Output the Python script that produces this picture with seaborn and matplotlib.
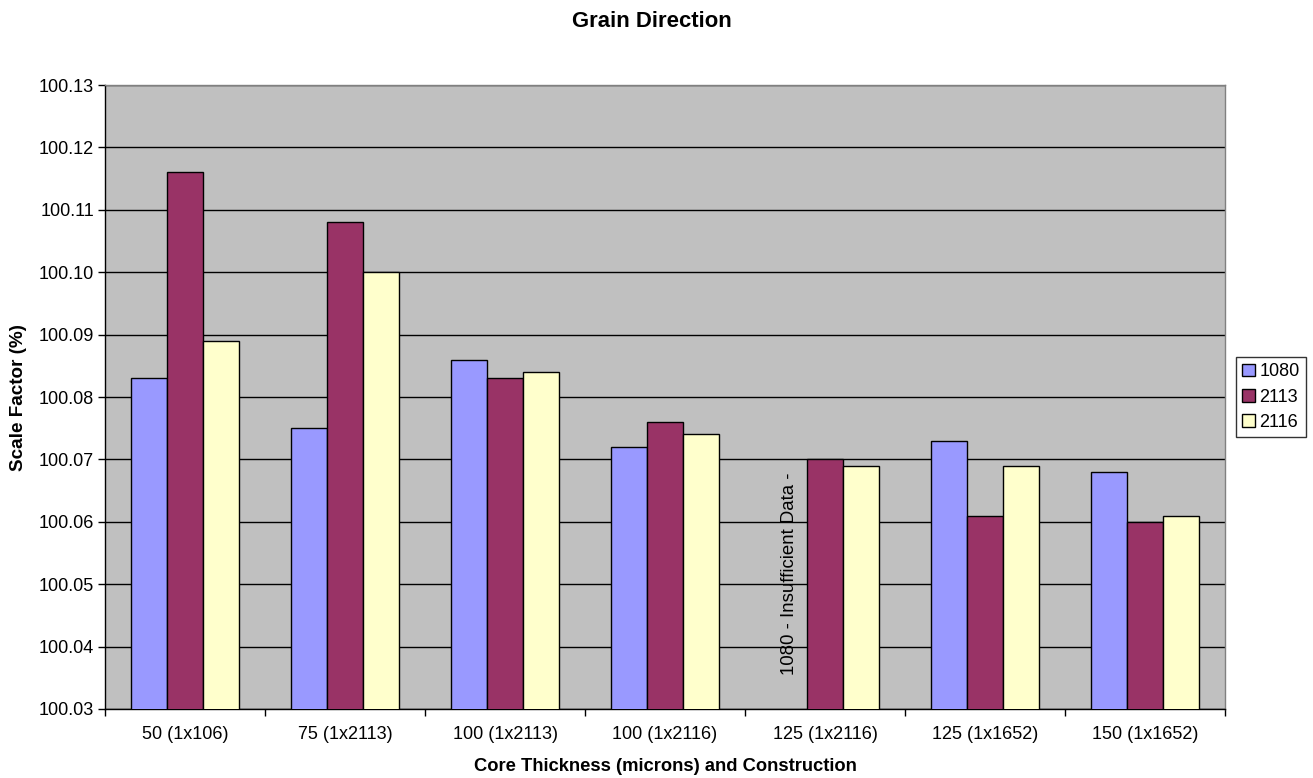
import numpy as np
import pandas as pd
import matplotlib
matplotlib.use("Agg")
import matplotlib.pyplot as plt
import seaborn as sns

categories = ["50 (1x106)", "75 (1x2113)", "100 (1x2113)", "100 (1x2116)",
              "125 (1x2116)", "125 (1x1652)", "150 (1x1652)"]
series_names = ["1080", "2113", "2116"]
values_1080 = [100.083, 100.075, 100.086, 100.072, np.nan, 100.073, 100.068]
values_2113 = [100.116, 100.108, 100.083, 100.076, 100.070, 100.061, 100.060]
values_2116 = [100.089, 100.100, 100.084, 100.074, 100.069, 100.069, 100.061]
y_ticks = [100.03, 100.04, 100.05, 100.06, 100.07, 100.08, 100.09,
           100.10, 100.11, 100.12, 100.13]
colors = ["#9999FF", "#993366", "#FFFFCC"]

df = pd.DataFrame({
    "Construction": categories * 3,
    "Series": np.repeat(series_names, len(categories)),
    "Value": values_1080 + values_2113 + values_2116,
})

sns.set_theme(style="white")
plt.rcParams["font.family"] = ["Liberation Sans", "DejaVu Sans"]
plt.rcParams["text.color"] = "black"
plt.rcParams["axes.labelcolor"] = "black"
plt.rcParams["xtick.color"] = "black"
plt.rcParams["ytick.color"] = "black"

fig = plt.figure(figsize=(13.13, 7.78), dpi=100)
ax = fig.add_axes([0.080, 0.0887, 0.853, 0.802])
ax.set_facecolor("#C0C0C0")

sns.barplot(data=df, x="Construction", y="Value", hue="Series",
            palette=colors, width=0.67, edgecolor="black", linewidth=1.0,
            saturation=1, ax=ax, legend=True, zorder=3)

ax.set_ylim(y_ticks[0], y_ticks[-1])
ax.set_xlim(-0.5, len(categories) - 0.5)
ax.set_yticks(y_ticks)
ax.set_yticklabels([f"{t:.2f}" for t in y_ticks], fontsize=13)
ax.yaxis.grid(True, color="black", linewidth=1.0, zorder=0)
ax.set_axisbelow(True)

ax.set_xticks(range(len(categories)))
ax.set_xticklabels(categories, fontsize=13)
ax.set_xticks(np.arange(-0.5, len(categories), 1.0), minor=True)
ax.tick_params(axis="x", which="major", length=0, pad=12)
ax.tick_params(axis="x", which="minor", length=5, width=1, color="black",
               direction="out", bottom=True)
ax.tick_params(axis="y", length=5, width=1, color="black", direction="out",
               left=True, pad=3)

for s in ax.spines.values():
    s.set_color("#808080")
    s.set_linewidth(1.0)
ax.spines["left"].set_color("black")
ax.spines["bottom"].set_color("black")

ax.set_xlabel("Core Thickness (microns) and Construction", fontsize=13.2,
              fontweight="bold", labelpad=11)
ax.set_ylabel("Scale Factor (%)", fontsize=13.6, fontweight="bold", labelpad=8)
fig.suptitle("Grain Direction", fontsize=15.9, fontweight="bold",
             x=0.4965, y=0.986)

ax.text(3.78, 100.0354, "1080 - Insufficient Data -", rotation=90,
        ha="center", va="bottom", fontsize=13.4, zorder=4)

handles, labels = ax.get_legend_handles_labels()
leg = ax.legend(handles, labels, loc="center left",
                bbox_to_anchor=(1.0095, 0.5), fontsize=13, frameon=True,
                fancybox=False, edgecolor="black", handlelength=0.7,
                handleheight=0.7, handletextpad=0.25, borderpad=0.35,
                labelspacing=0.45, borderaxespad=0)
leg.get_frame().set_linewidth(1.0)
for h in leg.legend_handles:
    h.set_edgecolor("black")
    h.set_linewidth(1.0)

fig.savefig("out.png", dpi=100, facecolor="white")
